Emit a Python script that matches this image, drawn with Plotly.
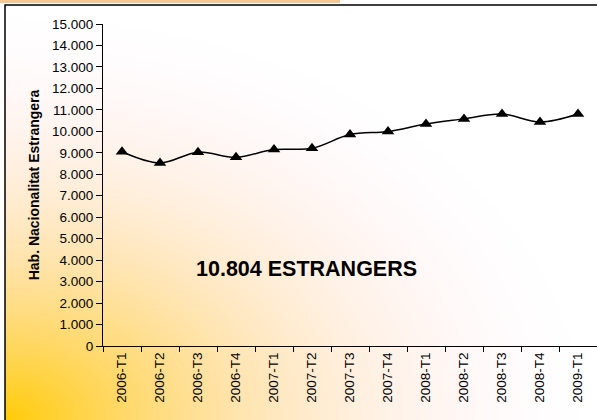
import base64
import struct
import zlib

import plotly.graph_objects as go

# dades: població de nacionalitat estrangera per trimestre
trimestres = ["2006-T1", "2006-T2", "2006-T3", "2006-T4",
              "2007-T1", "2007-T2", "2007-T3", "2007-T4",
              "2008-T1", "2008-T2", "2008-T3", "2008-T4",
              "2009-T1"]
estrangers = [9050, 8530, 9030, 8790, 9150, 9210, 9850,
              9990, 10340, 10580, 10810, 10430, 10804]
rotul = "10.804 ESTRANGERS"

W, H = 597, 420
M_L, M_R, M_T, M_B = 103, 0, 24, 74
PW, PH = W - M_L - M_R, H - M_T - M_B
FONT = "Liberation Sans, Arial, sans-serif"


def px_x(x):
    return (x - M_L) / PW


def px_y(y):
    return (H - M_B - y) / PH


def gradient_png(w, h):
    # fons degradat des de la cantonada inferior esquerra (groc) cap a blanc
    yellow = (255, 204, 10)
    expo = (1.0, 1.3, 2.2)
    rows = []
    for j in range(h):
        v = 1 - j / (h - 1)
        row = bytearray(b"\x00")
        for i in range(w):
            u = i / (w - 1)
            d = min(1.0, (u * u + v * v) ** 0.5)
            row += bytes(round(255 - (255 - c) * (1 - d) ** e)
                         for c, e in zip(yellow, expo))
        rows.append(bytes(row))

    def chunk(tag, data):
        return (struct.pack(">I", len(data)) + tag + data
                + struct.pack(">I", zlib.crc32(tag + data) & 0xFFFFFFFF))

    png = (b"\x89PNG\r\n\x1a\n"
           + chunk(b"IHDR", struct.pack(">IIBBBBB", w, h, 8, 2, 0, 0, 0))
           + chunk(b"IDAT", zlib.compress(b"".join(rows)))
           + chunk(b"IEND", b""))
    return "data:image/png;base64," + base64.b64encode(png).decode()


fig = go.Figure()
fig.add_trace(go.Scatter(
    x=trimestres,
    y=estrangers,
    mode="lines+markers",
    line=dict(color="black", width=1.5, shape="spline", smoothing=1),
    marker=dict(symbol="triangle-up", size=11, color="black"),
    showlegend=False,
))

fig.add_layout_image(dict(
    source=gradient_png(150, 105),
    xref="paper", yref="paper",
    x=px_x(5), y=px_y(5),
    sizex=px_x(W) - px_x(5), sizey=px_y(5) - px_y(H),
    xanchor="left", yanchor="top",
    sizing="stretch", layer="below",
))

# franja taronja superior i marc
fig.add_shape(type="rect", xref="paper", yref="paper",
              x0=px_x(0), x1=px_x(340), y0=px_y(0), y1=px_y(3),
              fillcolor="#FAC68E", line_width=0, layer="above")
fig.add_shape(type="rect", xref="paper", yref="paper",
              x0=px_x(5), x1=px_x(W + 5), y0=px_y(5), y1=px_y(H + 5),
              fillcolor="rgba(0,0,0,0)", line=dict(color="black", width=1.5),
              layer="above")

fig.add_annotation(
    text="<b>" + rotul + "</b>",
    xref="paper", yref="paper", x=px_x(306), y=px_y(269),
    xanchor="center", yanchor="middle",
    showarrow=False, font=dict(family=FONT, size=21.5, color="black"),
)

fig.update_layout(
    width=W, height=H,
    margin=dict(l=M_L, r=M_R, t=M_T, b=M_B, autoexpand=False),
    paper_bgcolor="white",
    plot_bgcolor="white",
    separators=",.",
    font=dict(family=FONT, size=13.5, color="black"),
    xaxis=dict(
        type="category", range=[-0.5, len(trimestres) - 0.5],
        showline=True, linecolor="black", linewidth=1,
        ticks="outside", tickson="boundaries", ticklen=5, tickcolor="black",
        tickangle=-90, showgrid=False,
    ),
    yaxis=dict(
        range=[0, 15000], dtick=1000, tickformat=",",
        showline=True, linecolor="black", linewidth=1,
        ticks="outside", ticklen=6, tickcolor="black",
        showgrid=False, zeroline=False,
        title=dict(text="<b>Hab. Nacionalitat Estrangera</b>",
                   font=dict(family=FONT, size=14), standoff=9),
    ),
)

fig.write_html("out.html", config={"displayModeBar": False},
               post_script="document.body.style.margin = '0';")
